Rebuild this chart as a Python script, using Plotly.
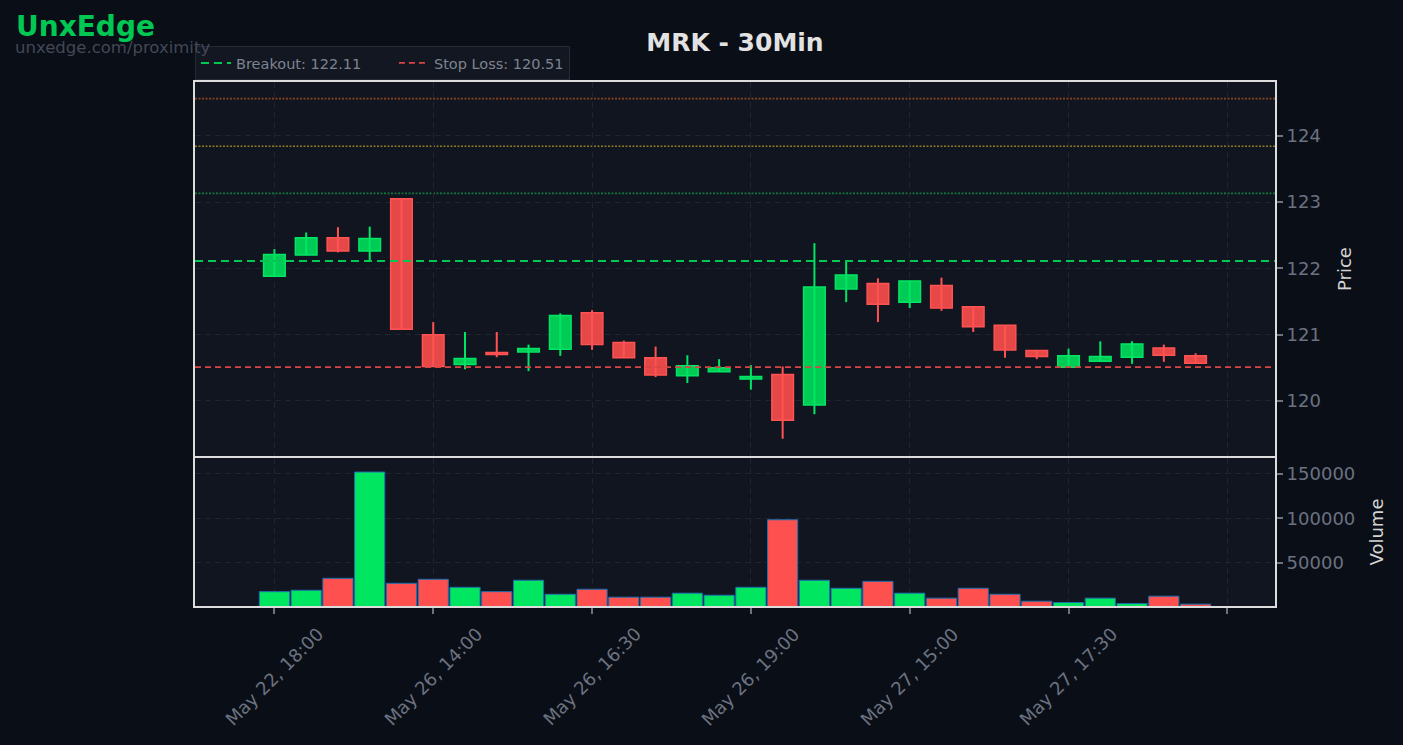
import plotly.graph_objects as go

# ---------------- data ----------------
TITLE = "MRK - 30Min"
TIMES = [
    "May 22, 18:00", "May 22, 18:30", "May 22, 19:00", "May 22, 19:30",
    "May 26, 13:30", "May 26, 14:00", "May 26, 14:30", "May 26, 15:00",
    "May 26, 15:30", "May 26, 16:00", "May 26, 16:30", "May 26, 17:00",
    "May 26, 17:30", "May 26, 18:00", "May 26, 18:30", "May 26, 19:00",
    "May 26, 19:30", "May 27, 13:30", "May 27, 14:00", "May 27, 14:30",
    "May 27, 15:00", "May 27, 15:30", "May 27, 16:00", "May 27, 16:30",
    "May 27, 17:00", "May 27, 17:30", "May 27, 18:00", "May 27, 18:30",
    "May 27, 19:00", "May 27, 19:30",
]
OPEN = [121.88, 122.20, 122.46, 122.26, 123.05, 121.00, 120.55, 120.73, 120.74, 120.78,
        121.33, 120.88, 120.65, 120.38, 120.44, 120.33, 120.40, 119.94, 121.69, 121.77,
        121.49, 121.74, 121.42, 121.14, 120.76, 120.51, 120.60, 120.66, 120.80, 120.68]
HIGH = [122.29, 122.54, 122.62, 122.63, 123.05, 121.19, 121.04, 121.04, 120.85, 121.32,
        121.37, 120.91, 120.82, 120.69, 120.63, 120.54, 120.52, 122.38, 122.10, 121.85,
        121.81, 121.86, 121.42, 121.14, 120.76, 120.79, 120.90, 120.90, 120.85, 120.72]
LOW = [121.88, 122.20, 122.24, 122.11, 121.08, 120.52, 120.48, 120.66, 120.45, 120.68,
       120.77, 120.65, 120.36, 120.27, 120.44, 120.17, 119.43, 119.80, 121.49, 121.19,
       121.40, 121.36, 121.04, 120.65, 120.63, 120.51, 120.59, 120.56, 120.59, 120.57]
CLOSE = [122.21, 122.46, 122.26, 122.45, 121.08, 120.52, 120.64, 120.70, 120.79, 121.29,
         120.85, 120.65, 120.39, 120.53, 120.50, 120.37, 119.71, 121.72, 121.90, 121.46,
         121.81, 121.40, 121.12, 120.77, 120.67, 120.68, 120.67, 120.86, 120.69, 120.57]
VOLUME = [17600, 19200, 32600, 152000, 27000, 31500, 22500, 17600, 30400, 14700,
          20300, 11400, 11400, 15900, 13600, 22500, 98400, 30400, 21400, 29200,
          15900, 10300, 21400, 14700, 6900, 5400, 10300, 4200, 12500, 3600]

BREAKOUT = 122.11
STOP_LOSS = 120.51
TARGET_LEVELS = [123.13, 123.84, 124.56]

X_TICKS = [0, 5, 10, 15, 20, 25, 30]
PRICE_TICKS = [120, 121, 122, 123, 124]
VOLUME_TICKS = [50000, 100000, 150000]

# ---------------- style ----------------
PAPER = "#0a0e17"
PLOT = "#11151f"
GRID = "#1f2431"
SPINE = "#dcdcdc"
TICK = "#6b7280"
UP_FILL, UP_EDGE = "#00cc55", "#00e664"
DN_FILL, DN_EDGE = "#e64848", "#ff5252"
VOL_UP, VOL_DN = "#00e660", "#ff5050"
TARGET_COLORS = ["#12773f", "#8c7b22", "#8a4420"]
FONT = "DejaVu Sans"
PAD = "\u00a0" * 6

X_RANGE = [-2.5, 31.5]
PRICE_RANGE = [119.17, 124.81]
VOL_RANGE = [1500, 167800]
VOL_FRAC = 149 / 524
GAP = 1 / 524

n = len(OPEN)
idx = list(range(n))
up = [c >= o for o, c in zip(OPEN, CLOSE)]

fig = go.Figure()

# wicks
for is_up, col in [(True, UP_EDGE), (False, DN_EDGE)]:
    wx, wy = [], []
    for i in idx:
        if up[i] == is_up:
            wx += [i, i, None]
            wy += [LOW[i], HIGH[i], None]
    fig.add_trace(go.Scatter(x=wx, y=wy, mode="lines", line=dict(color=col, width=2),
                             showlegend=False, hoverinfo="skip", xaxis="x", yaxis="y"))

# bodies
fig.add_trace(go.Bar(
    x=idx,
    y=[abs(c - o) for o, c in zip(OPEN, CLOSE)],
    base=[min(o, c) for o, c in zip(OPEN, CLOSE)],
    width=0.68,
    marker=dict(color=[UP_FILL if u else DN_FILL for u in up],
                line=dict(color=[UP_EDGE if u else DN_EDGE for u in up], width=1.5)),
    showlegend=False, xaxis="x", yaxis="y",
))

# volume
fig.add_trace(go.Bar(
    x=idx, y=VOLUME, width=0.95,
    marker=dict(color=[VOL_UP if u else VOL_DN for u in up],
                line=dict(color="#1f6fb0", width=1)),
    showlegend=False, xaxis="x2", yaxis="y2",
))

# breakout / stop loss lines
fig.add_trace(go.Scatter(x=X_RANGE, y=[BREAKOUT, BREAKOUT], mode="lines",
                         line=dict(color="#00c853", width=2, dash="8px,5px"),
                         name=f"Breakout: {BREAKOUT:.2f}{PAD}", xaxis="x", yaxis="y"))
fig.add_trace(go.Scatter(x=X_RANGE, y=[STOP_LOSS, STOP_LOSS], mode="lines",
                         line=dict(color="#d94545", width=1.8, dash="6px,4px"),
                         name=f"Stop Loss: {STOP_LOSS:.2f}", xaxis="x", yaxis="y"))

shapes = []
for lvl, col in zip(TARGET_LEVELS, TARGET_COLORS):
    shapes.append(dict(type="line", xref="x domain", yref="y", x0=0, x1=1, y0=lvl, y1=lvl,
                       line=dict(color=col, width=1.6, dash="2px,1.5px"), layer="below"))

annotations = [
    dict(text="<b>UnxEdge</b>", xref="paper", yref="paper", x=(14 - 195) / 1080,
         y=1 + (82 - 26) / 524, xanchor="left", yanchor="middle", showarrow=False,
         font=dict(family=FONT, size=28, color="#00c853")),
    dict(text="unxedge.com/proximity", xref="paper", yref="paper", x=(13 - 195) / 1080,
         y=1 + (82 - 48) / 524, xanchor="left", yanchor="middle", showarrow=False,
         font=dict(family=FONT, size=16.5, color="#424855")),
]
for t in X_TICKS:
    if t < n:
        annotations.append(dict(text=TIMES[t], xref="x2", yref="paper", x=t, y=0,
                                xanchor="center", yanchor="top", textangle=-45, yshift=-15,
                                showarrow=False, font=dict(family=FONT, size=18, color=TICK)))

axis_common = dict(showgrid=True, gridcolor=GRID, griddash="6px,4px", gridwidth=1.2,
                   showline=True, mirror=True, linecolor=SPINE, linewidth=2, zeroline=False)

fig.update_layout(
    width=1403, height=745,
    margin=dict(l=195, r=128, t=82, b=139),
    paper_bgcolor=PAPER, plot_bgcolor=PLOT,
    font=dict(family=FONT, size=18, color=TICK),
    barmode="overlay",
    title=dict(text=f"<b>{TITLE}</b>", x=0.5, xref="paper", xanchor="center",
               y=1 - 42 / 745, yref="container", yanchor="middle",
               font=dict(family=FONT, size=25, color="#e2e2e2")),
    legend=dict(orientation="h", x=0, xanchor="left", y=1 + 2 / 524, yanchor="bottom",
                bgcolor="#121722", bordercolor="#252a35", borderwidth=1,
                font=dict(family=FONT, size=14.5, color="#7d8490"), itemwidth=30),
    xaxis=dict(domain=[0, 1], anchor="y", range=X_RANGE, tickvals=X_TICKS,
               showticklabels=False, ticks="", **axis_common),
    xaxis2=dict(domain=[0, 1], anchor="y2", matches="x", range=X_RANGE, tickvals=X_TICKS,
                showticklabels=False, ticks="outside", ticklen=6, tickwidth=1.5,
                tickcolor=TICK, **axis_common),
    yaxis=dict(domain=[VOL_FRAC + GAP, 1], anchor="x", side="right", range=PRICE_RANGE,
               tickvals=PRICE_TICKS, ticks="outside", ticklen=6, tickwidth=1.5, tickcolor=TICK,
               tickfont=dict(size=18, color=TICK),
               title=dict(text="Price", font=dict(size=18, color="#d4d4d4"), standoff=18),
               **axis_common),
    yaxis2=dict(domain=[0, VOL_FRAC - GAP], anchor="x2", side="right", range=VOL_RANGE,
                tickvals=VOLUME_TICKS, tickformat="d", ticks="outside", ticklen=6,
                tickwidth=1.5, tickcolor=TICK, tickfont=dict(size=18, color=TICK),
                title=dict(text="Volume", font=dict(size=18, color="#d4d4d4"), standoff=16),
                **axis_common),
    shapes=shapes,
    annotations=annotations,
)

fig.write_html("out.html")
